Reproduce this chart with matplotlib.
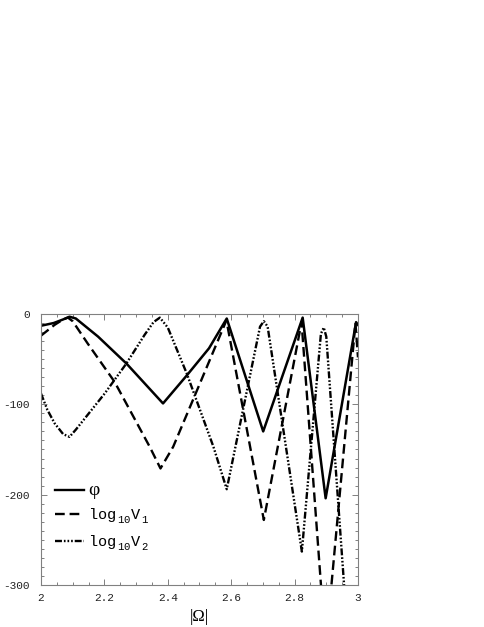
import numpy as np
import matplotlib
matplotlib.use("Agg")
import matplotlib.pyplot as plt

plt.rcParams['mathtext.fontset'] = 'custom'
plt.rcParams['mathtext.tt'] = 'Liberation Mono'
plt.rcParams['mathtext.rm'] = 'Liberation Serif'
plt.rcParams['axes.unicode_minus'] = False
plt.rcParams['lines.scale_dashes'] = False

# phi (solid)
phi_x = [2.0, 2.04, 2.07, 2.09, 2.11, 2.18, 2.27, 2.385, 2.46, 2.53, 2.586,
         2.701, 2.8255, 2.898, 2.994, 3.0]
phi_y = [-13, -10, -6, -3, -5, -25, -55, -99, -68, -38, -5,
         -130, -4, -204, -9, -12]

# log10 V1 (dashed)
v1_x = [2.0, 2.043, 2.07, 2.085, 2.10, 2.148, 2.232, 2.343, 2.377, 2.417, 2.50,
        2.585, 2.703, 2.822, 2.898, 2.992, 3.0]
v1_y = [-24, -12, -6, -4, -8, -33, -75, -147, -171, -147, -78,
        -7, -228, -9, -370, -10, -48]

# log10 V2 (dash-dot-dot)
v2_x = [2.0, 2.02, 2.043, 2.07, 2.09, 2.11, 2.201, 2.269, 2.327, 2.355, 2.375,
        2.40, 2.46, 2.544, 2.586, 2.691, 2.703, 2.715, 2.823, 2.883, 2.892,
        2.90, 2.956, 2.975]
v2_y = [-88, -106, -121, -133, -136, -128, -88, -55, -23, -9, -4,
        -15, -66, -147, -194, -14, -8, -14, -263, -22, -15,
        -25, -299, -385]

xticks = [2, 2.2, 2.4, 2.6, 2.8, 3]
xtick_labels = ['2', '2.2', '2.4', '2.6', '2.8', '3']
yticks = [0, -100, -200, -300]
ytick_labels = ['0', '-100', '-200', '-300']

fig = plt.figure(figsize=(4.85, 6.27), dpi=100)
ax = fig.add_axes([0.0845, 0.067, 0.6536, 0.4322])

ax.plot(phi_x, phi_y, color='black', lw=1.8, label='φ')
ax.plot(v1_x, v1_y, color='black', lw=1.7, linestyle=(0, (7, 3.5)),
        label=r'$\mathtt{log}_{\,\mathtt{10}}^{\ }\mathtt{V}_{\,\mathtt{1}}^{\ }$')
ax.plot(v2_x, v2_y, color='black', lw=1.7,
        linestyle=(0, (5, 1.4, 1.2, 1.4, 1.2, 1.4, 1.2, 1.4)),
        label=r'$\mathtt{log}_{\,\mathtt{10}}^{\ }\mathtt{V}_{\,\mathtt{2}}^{\ }$')

ax.set_xlim(2, 3)
ax.set_ylim(-300, 0)
ax.set_xticks(xticks)
ax.set_xticklabels(xtick_labels)
ax.set_yticks(yticks)
ax.set_yticklabels(ytick_labels)
ax.set_xticks(np.arange(2, 3.001, 0.05), minor=True)
ax.set_yticks(np.arange(-300, 1, 10), minor=True)

for s in ax.spines.values():
    s.set_color('#808080')
    s.set_linewidth(0.8)
ax.tick_params(which='both', direction='in', top=True, right=True,
               color='#808080', width=0.7)
ax.tick_params(which='major', length=4)
ax.tick_params(which='minor', length=2.2)
ax.tick_params(axis='x', which='major', pad=6, labelsize=8, labelcolor='#222222')
ax.tick_params(axis='y', which='major', pad=8, labelsize=8, labelcolor='#222222')
for t in ax.get_xticklabels() + ax.get_yticklabels():
    t.set_fontfamily('Liberation Mono')

ax.set_xlabel('|Ω|', fontfamily='Liberation Serif', fontsize=12, labelpad=4)

leg = ax.legend(loc='upper left', bbox_to_anchor=(0.045, 0.38), frameon=False,
                fontsize=11, handlelength=1.85, handletextpad=0.3,
                labelspacing=0.5, borderaxespad=0, borderpad=0)
for line in leg.get_lines():
    line.set_linewidth(1.7)
leg.get_texts()[0].set_fontfamily('Liberation Serif')
leg.get_texts()[0].set_fontsize(14)

fig.savefig('out.png', dpi=100)
